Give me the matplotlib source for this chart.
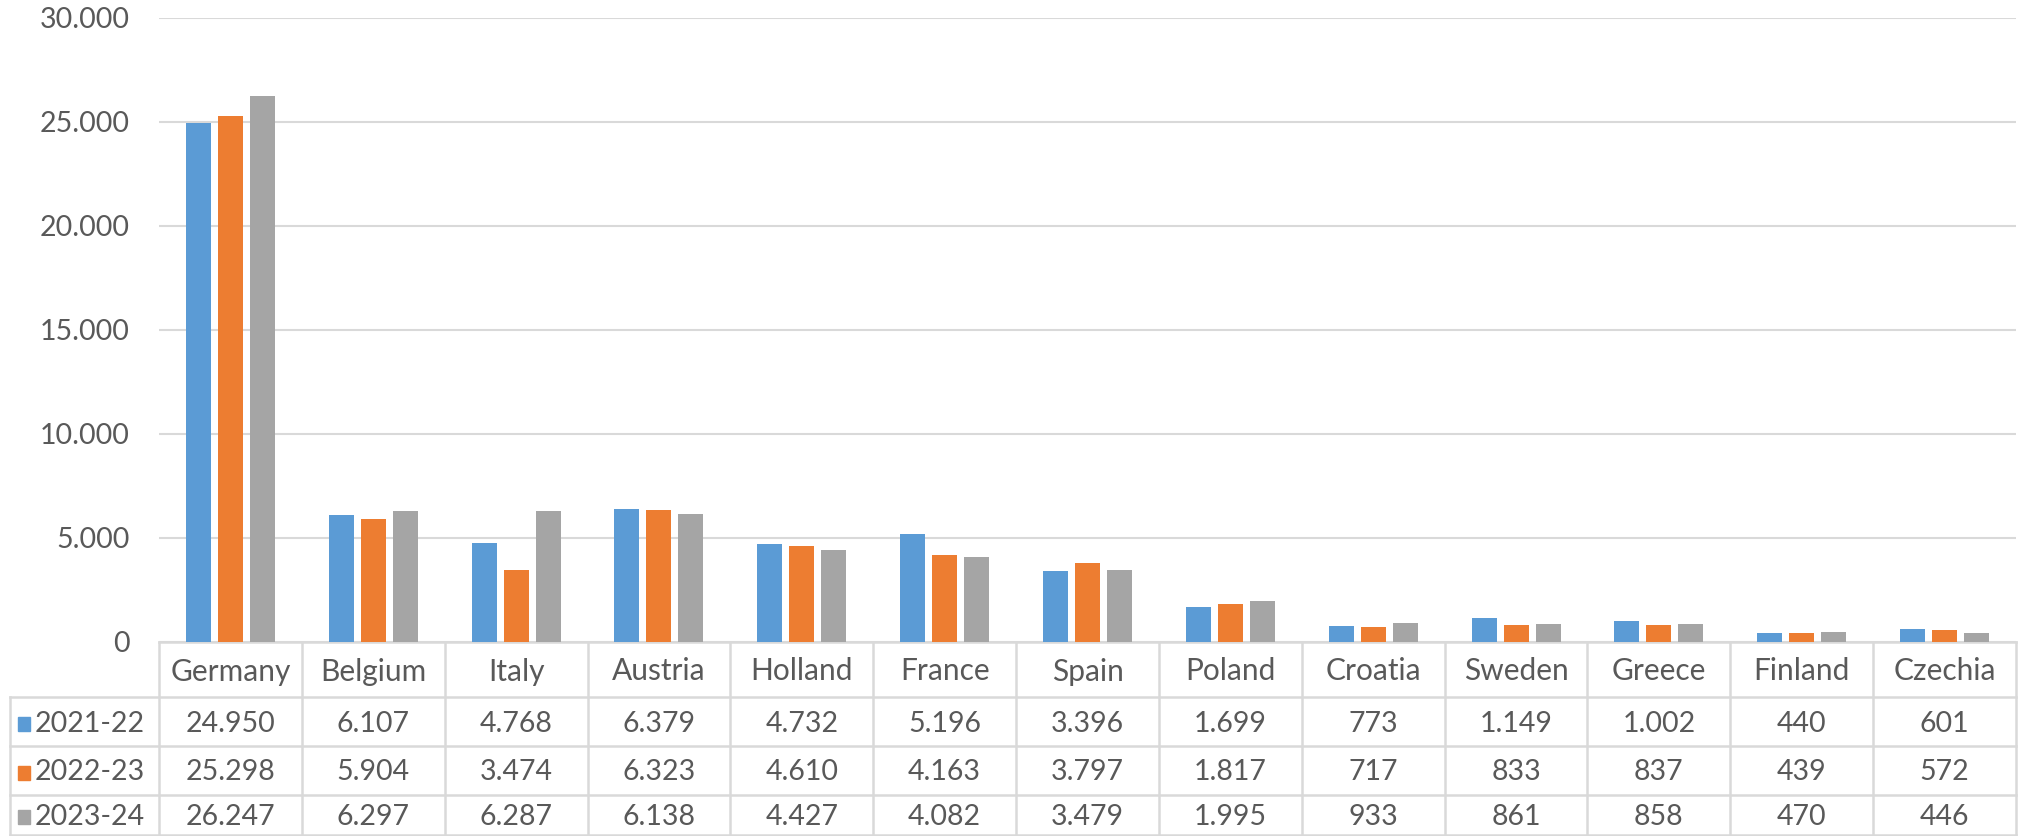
import matplotlib

matplotlib.use("Agg")
import matplotlib.pyplot as plt
from matplotlib.patches import Rectangle
from matplotlib.transforms import blended_transform_factory

COUNTRIES = ["Germany", "Belgium", "Italy", "Austria", "Holland", "France", "Spain",
             "Poland", "Croatia", "Sweden", "Greece", "Finland", "Czechia"]
SEASONS = ["2021-22", "2022-23", "2023-24"]
V_2021 = [24950, 6107, 4768, 6379, 4732, 5196, 3396, 1699, 773, 1149, 1002, 440, 601]
V_2022 = [25298, 5904, 3474, 6323, 4610, 4163, 3797, 1817, 717, 833, 837, 439, 572]
V_2023 = [26247, 6297, 6287, 6138, 4427, 4082, 3479, 1995, 933, 861, 858, 470, 446]
Y_TICKS = [0, 5000, 10000, 15000, 20000, 25000, 30000]

COLORS = ["#5B9BD5", "#ED7D31", "#A5A5A5"]
TEXT = "#595959"
GRID = "#D9D9D9"
FONT = "Lato"

W, H = 2024, 836


def fmt(v):
    return f"{v:,}".replace(",", ".")


def fy(px):
    # pixel row (from top) -> figure fraction
    return 1 - px / H


fig = plt.figure(figsize=(W / 100, H / 100), dpi=100)
plt.rcParams["font.family"] = [FONT, "DejaVu Sans"]

left, right, top, zero = 159, 2016, 18, 642
ax = fig.add_axes([left / W, fy(zero), (right - left) / W, (zero - top) / H])

series = [V_2021, V_2022, V_2023]
n = len(COUNTRIES)
bw, step = 0.175, 0.224
for i, vals in enumerate(series):
    xs = [k + (i - 1) * step for k in range(n)]
    ax.bar(xs, vals, width=bw, color=COLORS[i], zorder=3)

ax.set_xlim(-0.5, n - 0.5)
ax.set_ylim(0, 30000)
ax.set_yticks(Y_TICKS)
ax.set_yticklabels([fmt(t) for t in Y_TICKS], fontsize=20.5, color=TEXT)
ax.set_xticks([])
ax.tick_params(axis="y", length=0, pad=21)
ax.grid(axis="y", color=GRID, lw=1.5, zorder=0)
for s in ax.spines.values():
    s.set_visible(False)

# data table under the plot
tr = blended_transform_factory(ax.transData, fig.transFigure)
rows_px = [642, 697, 746, 795, 835]
lw = 1.8
# header row
ax.plot([-0.5, n - 0.5], [fy(rows_px[0])] * 2, transform=tr, color=GRID, lw=lw, clip_on=False)
for k in range(n + 1):
    ax.plot([k - 0.5, k - 0.5], [fy(rows_px[0]), fy(rows_px[-1])], transform=tr,
            color=GRID, lw=lw, clip_on=False)
for k, name in enumerate(COUNTRIES):
    fig.text(k, fy((rows_px[0] + rows_px[1]) / 2 + 2), name, transform=tr,
             ha="center", va="center", fontsize=21.5, color=TEXT)

# value rows, with legend keys in the first column
fig.add_artist(plt.Line2D([10 / W, right / W], [fy(rows_px[1])] * 2, color=GRID, lw=lw))
fig.add_artist(plt.Line2D([10 / W, 10 / W], [fy(rows_px[1]), fy(rows_px[-1])], color=GRID, lw=lw))
for r, (label, vals) in enumerate(zip(SEASONS, series)):
    y0, y1 = rows_px[r + 1], rows_px[r + 2]
    fig.add_artist(plt.Line2D([10 / W, right / W], [fy(y1)] * 2, color=GRID, lw=lw))
    ymid = (y0 + y1) / 2 + 2
    fig.add_artist(Rectangle((18 / W, fy(ymid + 7)), 12 / W, 14 / H,
                             transform=fig.transFigure, color=COLORS[r]))
    fig.text(35 / W, fy(ymid), label, ha="left", va="center", fontsize=20.5, color=TEXT)
    for k, v in enumerate(vals):
        fig.text(k, fy(ymid), fmt(v), transform=tr, ha="center", va="center",
                 fontsize=20.5, color=TEXT)

fig.savefig("out.png", dpi=100, facecolor="white")
